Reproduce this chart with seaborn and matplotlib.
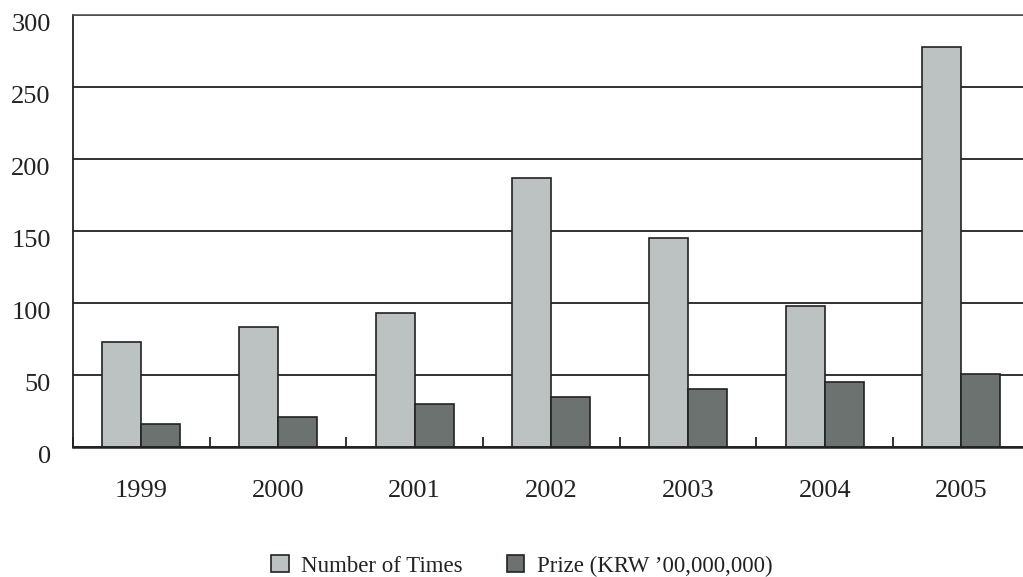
import matplotlib
matplotlib.use("Agg")
import matplotlib.pyplot as plt
from matplotlib.patches import Patch
from matplotlib.transforms import ScaledTranslation
from matplotlib.ticker import FixedLocator
import seaborn as sns
import pandas as pd

years = ["1999", "2000", "2001", "2002", "2003", "2004", "2005"]
times = [73, 83, 93, 187, 145, 98, 278]
prize = [16, 21, 30, 35, 40, 45, 51]
series_names = ["Number of Times", "Prize (KRW \u201900,000,000)"]
y_ticks = [0, 50, 100, 150, 200, 250, 300]

light = "#bcc2c1"
dark = "#6c7270"
ink = "#222222"

df = pd.DataFrame({
    "year": years * 2,
    "value": times + prize,
    "series": [series_names[0]] * len(years) + [series_names[1]] * len(years),
})

sns.set_theme(style="white")
plt.rcParams["font.family"] = ["Liberation Serif", "DejaVu Serif"]

fig = plt.figure(figsize=(10.23, 5.77), dpi=100)
ax = fig.add_axes([0.0714, 0.2253, 0.9352, 0.7487])

sns.barplot(data=df, x="year", y="value", hue="series", order=years,
            hue_order=series_names, palette=[light, dark], width=0.57,
            edgecolor=ink, linewidth=1.2, saturation=1, ax=ax, legend=False)

ax.set_ylim(0, 300)
ax.set_xlim(-0.5, len(years) - 0.5)
ax.set_yticks(y_ticks)
ax.yaxis.grid(True, color=ink, linewidth=1.3)
ax.set_axisbelow(True)
ax.set_xlabel("")
ax.set_ylabel("")

ax.spines["right"].set_visible(False)
ax.spines["top"].set_color("#555555")
ax.spines["top"].set_linewidth(1.2)
ax.spines["left"].set_color(ink)
ax.spines["left"].set_linewidth(1.3)
ax.spines["bottom"].set_color(ink)
ax.spines["bottom"].set_linewidth(1.8)

# small inward separators between year groups
ax.xaxis.set_minor_locator(FixedLocator([i - 0.5 for i in range(len(years) + 1)]))
ax.tick_params(axis="x", which="minor", direction="in", length=7.5, width=1.3,
               color=ink, bottom=True)
ax.tick_params(axis="x", which="major", length=0, pad=24, labelsize=19,
               labelcolor=ink)
ax.tick_params(axis="y", which="major", length=0, pad=16, labelsize=19,
               labelcolor=ink)

shift = ScaledTranslation(0, -7.5 / 100, fig.dpi_scale_trans)
for lab in ax.get_yticklabels():
    lab.set_transform(lab.get_transform() + shift)

handles = [Patch(facecolor=light, edgecolor=ink, linewidth=1.2),
           Patch(facecolor=dark, edgecolor=ink, linewidth=1.2)]
fig.legend(handles, series_names, loc="center", bbox_to_anchor=(0.51, 0.019),
           ncol=2, frameon=False, fontsize=16.5, handlelength=0.78,
           handleheight=0.78, handletextpad=0.56, columnspacing=1.9,
           labelcolor=ink)

fig.savefig("out.png", dpi=100)
